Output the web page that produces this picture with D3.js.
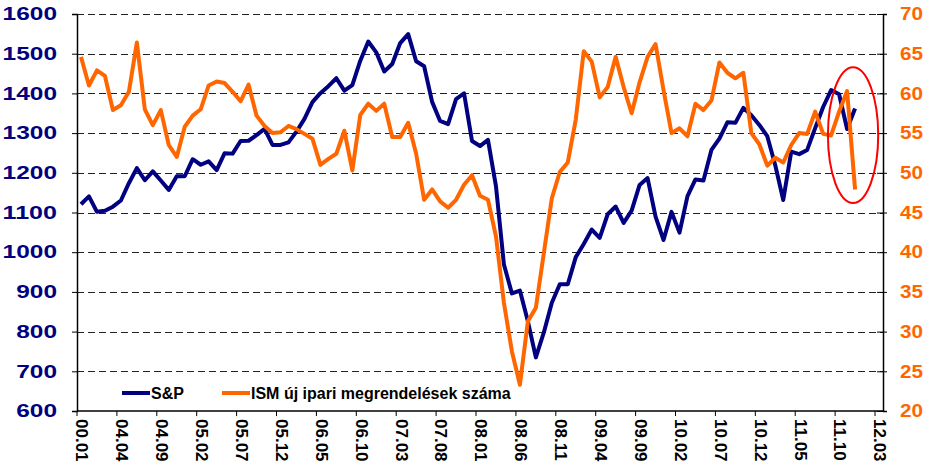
<!DOCTYPE html>
<html>
<head>
<meta charset="utf-8">
<script src="https://cdn.jsdelivr.net/npm/d3@7"></script>
<style>
  html, body { margin: 0; padding: 0; background: #fff; }
  svg { display: block; font-family: "Liberation Sans", Arial, sans-serif; }
</style>
</head>
<body>
<svg id="chart" width="927" height="466"></svg>
<script>
// ---- Data ----
const tickLabels = ["00.01","04.04","04.09","05.02","05.07","05.12","06.05","06.10","07.03","07.08",
  "08.01","08.06","08.11","09.04","09.09","10.02","10.07","10.12","11.05","11.10","12.03"];
const categoryCount = 101;

const spValues = [
  1120.7, 1140.8, 1101.7, 1104.2, 1114.6, 1130.2, 1173.8, 1211.9,
  1181.3, 1203.6, 1180.6, 1156.9, 1191.5, 1191.3, 1234.2, 1220.3, 1228.8, 1207.0, 1249.5, 1248.3,
  1280.1, 1280.7, 1294.8, 1310.6, 1270.1, 1270.2, 1276.7, 1303.8, 1335.9, 1377.9, 1400.6, 1418.3,
  1438.2, 1406.8, 1420.9, 1482.4, 1530.6, 1503.4, 1455.3, 1474.0, 1526.8, 1549.4, 1481.1, 1468.4,
  1378.6, 1330.6, 1322.7, 1385.6, 1400.4, 1280.0, 1267.4, 1282.8, 1166.4, 968.8, 896.2, 903.3,
  825.9, 735.1, 797.9, 872.8, 919.1, 919.3, 987.5, 1020.6, 1057.1, 1036.2, 1095.6, 1115.1,
  1073.9, 1104.5, 1169.4, 1186.7, 1089.4, 1030.7, 1101.6, 1049.3, 1141.2, 1183.3, 1180.6, 1257.6,
  1286.1, 1327.2, 1325.8, 1363.6, 1345.2, 1320.6, 1292.3, 1218.9, 1131.4, 1253.3, 1247.0, 1257.6,
  1312.4, 1365.7, 1408.5, 1397.9, 1310.3, 1362.2
];

const ismValues = [
  64.6, 61.0, 62.9, 62.2, 57.9, 58.5, 60.2, 66.4, 58.0, 56.0,
  57.9, 53.5, 52.0, 55.8, 57.2, 58.0, 61.0, 61.5, 61.3, 60.2,
  59.0, 61.1, 57.2, 55.9, 55.0, 55.1, 55.9, 55.5, 54.9, 54.3,
  51.0, 51.75, 52.4, 55.3, 50.3, 57.3, 58.7, 57.8, 58.7, 54.5,
  54.5, 56.3, 52.4, 46.6, 47.9, 46.4, 45.6, 46.6, 48.5, 49.7,
  47.1, 46.6, 42.0, 33.6, 27.5, 23.3, 31.3, 33.0, 39.9, 46.8,
  50.1, 51.3, 56.7, 65.3, 64.0, 59.5, 60.8, 64.6, 60.8, 57.5,
  61.4, 64.6, 66.2, 60.4, 55.0, 55.6, 54.6, 58.7, 57.9, 59.1,
  63.9, 62.6, 61.9, 62.6, 55.0, 53.6, 50.9, 51.9, 51.3, 53.5,
  55.0, 54.9, 57.7, 54.9, 54.7, 57.7, 60.3, 47.9
];

const leftTicks = [600, 700, 800, 900, 1000, 1100, 1200, 1300, 1400, 1500, 1600];
const rightTicks = [20, 25, 30, 35, 40, 45, 50, 55, 60, 65, 70];
const seriesNames = ["S&P", "ISM új ipari megrendelések száma"];
// highlight ellipse (in category index / right-axis units)
const highlight = { i0: 93.6, i1: 99.9, v0: 63.3, v1: 46.2 };

// ---- Layout ----
const svg = d3.select("#chart");
const L = 77, R = 883, T = 14, B = 411;
const navy = "#000080", orange = "#FF6600";

const x = d3.scaleBand().domain(d3.range(categoryCount)).range([L, R]).padding(0);
const cx = i => x(i) + x.bandwidth() / 2;
const xc = d3.scaleLinear().domain([0, categoryCount - 1]).range([cx(0), cx(categoryCount - 1)]);
const yL = d3.scaleLinear().domain([600, 1600]).range([B, T]);
const yR = d3.scaleLinear().domain([20, 70]).range([B, T]);

// gridlines
svg.append("g").selectAll("line").data(leftTicks.filter(v => v > 600)).join("line")
  .attr("x1", L).attr("x2", R)
  .attr("y1", d => Math.round(yL(d)) + 0.5).attr("y2", d => Math.round(yL(d)) + 0.5)
  .attr("stroke", "#222").attr("stroke-width", 1).attr("stroke-dasharray", "7,4");

// left axis
const gl = svg.append("g").attr("transform", `translate(${L},0)`)
  .call(d3.axisLeft(yL).tickValues(leftTicks).tickSize(5).tickPadding(15).tickFormat(d3.format("d")));
gl.select(".domain").attr("stroke", "#000").attr("stroke-width", 1.5);
gl.selectAll(".tick line").attr("stroke", "#000");
gl.selectAll(".tick text").attr("fill", navy).attr("font-size", 18).attr("font-weight", "bold")
  .attr("font-family", "Liberation Sans, Arial, sans-serif")
  .attr("textLength", d => String(d).length * 13.6)
  .attr("lengthAdjust", "spacingAndGlyphs");

// right axis
const gr = svg.append("g").attr("transform", `translate(${R},0)`)
  .call(d3.axisRight(yR).tickValues(rightTicks).tickSize(4).tickPadding(13));
gr.select(".domain").attr("stroke", "#000").attr("stroke-width", 1.5);
gr.selectAll(".tick line").attr("stroke", "#000").attr("x1", -6);
gr.selectAll(".tick text").attr("fill", orange).attr("font-size", 18).attr("font-weight", "bold")
  .attr("font-family", "Liberation Sans, Arial, sans-serif")
  .attr("textLength", d => String(d).length * 11.5)
  .attr("lengthAdjust", "spacingAndGlyphs");

// bottom axis
const tickIdx = d3.range(0, categoryCount, 5);
const gb = svg.append("g").attr("transform", `translate(0,${B})`);
gb.append("line").attr("x1", L).attr("x2", R).attr("y1", 0).attr("y2", 0)
  .attr("stroke", "#000").attr("stroke-width", 1.5);
gb.selectAll("line.tk").data(tickIdx).join("line").attr("class", "tk")
  .attr("x1", d => x(d)).attr("x2", d => x(d)).attr("y1", 0).attr("y2", 5)
  .attr("stroke", "#000");
gb.selectAll("text").data(tickIdx).join("text")
  .attr("transform", d => `translate(${cx(d) + 1.5},8) rotate(90)`)
  .attr("dy", "0.36em")
  .attr("font-size", 17).attr("font-weight", "bold").attr("fill", "#000")
  .text((d, k) => tickLabels[k]);

// lines
const lineL = d3.line().x((d, i) => cx(i)).y(d => yL(d));
const lineR = d3.line().x((d, i) => cx(i)).y(d => yR(d));
svg.append("path").datum(spValues).attr("d", lineL)
  .attr("fill", "none").attr("stroke", navy).attr("stroke-width", 4).attr("stroke-linejoin", "round");
svg.append("path").datum(ismValues).attr("d", lineR)
  .attr("fill", "none").attr("stroke", orange).attr("stroke-width", 4).attr("stroke-linejoin", "round");

// highlight ellipse
svg.append("ellipse")
  .attr("cx", (xc(highlight.i0) + xc(highlight.i1)) / 2)
  .attr("cy", (yR(highlight.v0) + yR(highlight.v1)) / 2)
  .attr("rx", (xc(highlight.i1) - xc(highlight.i0)) / 2)
  .attr("ry", (yR(highlight.v1) - yR(highlight.v0)) / 2)
  .attr("fill", "none").attr("stroke", "#FF0000").attr("stroke-width", 2);

// legend
const legend = svg.append("g");
const legItems = [{ name: seriesNames[0], color: navy, x: 122 }, { name: seriesNames[1], color: orange, x: 222 }];
legItems.forEach(it => {
  legend.append("line").attr("x1", it.x).attr("x2", it.x + 28).attr("y1", 393).attr("y2", 393)
    .attr("stroke", it.color).attr("stroke-width", 4);
  legend.append("text").attr("x", it.x + 29).attr("y", 398.5)
    .attr("font-size", 16).attr("font-weight", "bold").attr("fill", "#000").text(it.name);
});
</script>
</body>
</html>
